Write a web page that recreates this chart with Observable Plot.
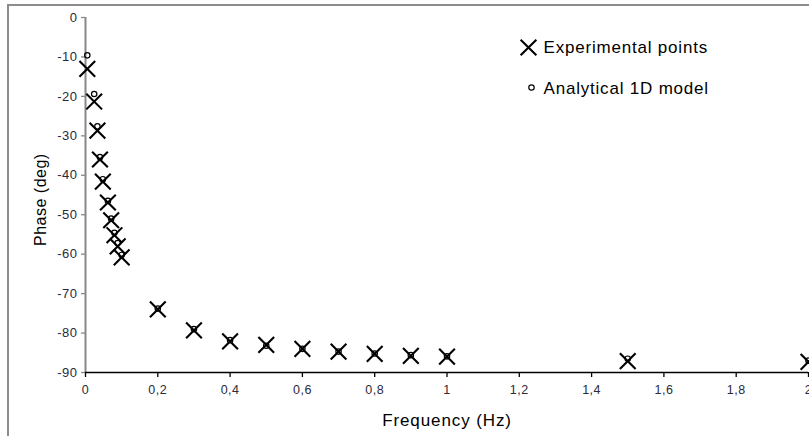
<!DOCTYPE html>
<html><head><meta charset="utf-8">
<script src="https://cdn.jsdelivr.net/npm/d3@7"></script>
<script src="https://cdn.jsdelivr.net/npm/@observablehq/plot@0.6"></script>
<style>
body{margin:0;background:#fff;}
#wrap{position:relative;width:809px;height:436px;overflow:hidden;font-family:"Liberation Sans",Arial,sans-serif;}
#chart{position:absolute;left:0;top:0;}
#border{position:absolute;left:7px;top:4px;width:900px;height:900px;border-top:2px solid #8c8c8c;border-left:2px solid #8c8c8c;pointer-events:none;}
</style></head><body>
<div id="wrap"><div id="chart"></div><div id="border"></div></div>
<script>
// Frequencies (Hz)
const freq = [0.005, 0.024, 0.033, 0.04, 0.048, 0.062, 0.071, 0.08, 0.089, 0.1,
              0.2, 0.3, 0.4, 0.5, 0.6, 0.7, 0.8, 0.9, 1.0, 1.5, 2.0];
// Experimental phase (deg)
const phaseExp = [-13.0, -21.3, -28.7, -36.0, -41.6, -46.9, -51.4, -55.2, -58.0, -60.8,
                  -74.0, -79.3, -82.1, -83.0, -84.0, -84.7, -85.3, -85.8, -86.0, -87.1, -87.3];
// Analytical 1D model phase (deg)
const phaseModel = [-9.6, -19.4, -27.6, -35.4, -41.0, -46.5, -51.0, -54.6, -57.2, -60.2,
                    -73.8, -79.0, -81.8, -83.2, -84.0, -84.7, -85.2, -85.6, -85.9, -86.5, -87.0];
const seriesNames = ["Experimental points", "Analytical 1D model"];
const xTicks = [0, 0.2, 0.4, 0.6, 0.8, 1, 1.2, 1.4, 1.6, 1.8, 2];
const xTickLabels = ["0", "0,2", "0,4", "0,6", "0,8", "1", "1,2", "1,4", "1,6", "1,8", "2"];
const yTicks = [0, -10, -20, -30, -40, -50, -60, -70, -80, -90];
const yTickLabels = ["0", "-10", "-20", "-30", "-40", "-50", "-60", "-70", "-80", "-90"];
const xLabel = "Frequency (Hz)";
const yLabel = "Phase (deg)";

const expData = freq.map((f, i) => ({f, p: phaseExp[i]}));
const modelData = freq.map((f, i) => ({f, p: phaseModel[i]}));

const chart = Plot.plot({
  width: 809, height: 436,
  marginLeft: 85, marginRight: 1, marginTop: 17, marginBottom: 64,
  style: {fontFamily: "'Liberation Sans', Arial, sans-serif", fontSize: "12px", background: "transparent", overflow: "hidden"},
  x: {domain: [0, 2], label: null},
  y: {domain: [-90, 0], label: null},
  marks: [
    Plot.axisY({ticks: yTicks, tickFormat: d => yTickLabels[yTicks.indexOf(d)], tickSize: 4, tickPadding: 4,
                color: "#2a2a3a", stroke: "#888", strokeWidth: 1.3, fontSize: 13, label: null}),
    Plot.axisX({ticks: xTicks, tickFormat: d => xTickLabels[xTicks.indexOf(d)], tickSize: 5, tickPadding: 8,
                color: "#2a2a3a", stroke: "#000", strokeWidth: 1.3, fontSize: 12.5, label: null}),
    Plot.ruleX([0], {stroke: "#888", strokeWidth: 2}),
    Plot.ruleY([-90], {stroke: "#000", strokeWidth: 1.5}),
    Plot.dot(expData, {x: "f", y: "p", symbol: "times", r: 7.2, stroke: "#000", strokeWidth: 2.1}),
    Plot.dot(modelData, {x: "f", y: "p", symbol: "circle", r: 2.7, stroke: "#000", strokeWidth: 1.2, fill: "none"}),
    // legend
    Plot.dot([seriesNames[0]], {frameAnchor: "top-left", dx: 443, dy: 30, symbol: "times", r: 7.2, stroke: "#000", strokeWidth: 2.1}),
    Plot.dot([seriesNames[1]], {frameAnchor: "top-left", dx: 446, dy: 70, symbol: "circle", r: 2.7, stroke: "#000", strokeWidth: 1.2, fill: "none"}),
    Plot.text([seriesNames[0]], {text: d => d, frameAnchor: "top-left", dx: 458, dy: 30, textAnchor: "start", lineAnchor: "middle", fontSize: 17, fill: "#000"}),
    Plot.text([seriesNames[1]], {text: d => d, frameAnchor: "top-left", dx: 458, dy: 71, textAnchor: "start", lineAnchor: "middle", fontSize: 17, fill: "#000"}),
    // axis titles
    Plot.text([xLabel], {text: d => d, frameAnchor: "bottom", dy: 53, lineAnchor: "bottom", fontSize: 17, fill: "#000"}),
    Plot.text([yLabel], {text: d => d, frameAnchor: "left", dx: -45, dy: 51, rotate: -90, lineAnchor: "middle", fontSize: 16, fill: "#000"})
  ]
});
const sel = d3.select(chart);
sel.selectAll("text").filter(function() { return seriesNames.includes(this.textContent); }).style("letter-spacing", "0.8px");
sel.selectAll("text").filter(function() { return this.textContent === xLabel; }).style("letter-spacing", "0.9px");
sel.selectAll("text").filter(function() { return this.textContent === yLabel; }).style("letter-spacing", "0.5px");
sel.selectAll('g[aria-label="x-axis tick label"] text, g[aria-label="y-axis tick label"] text').style("letter-spacing", "0.5px");
document.getElementById("chart").appendChild(chart);
</script>
</body></html>
